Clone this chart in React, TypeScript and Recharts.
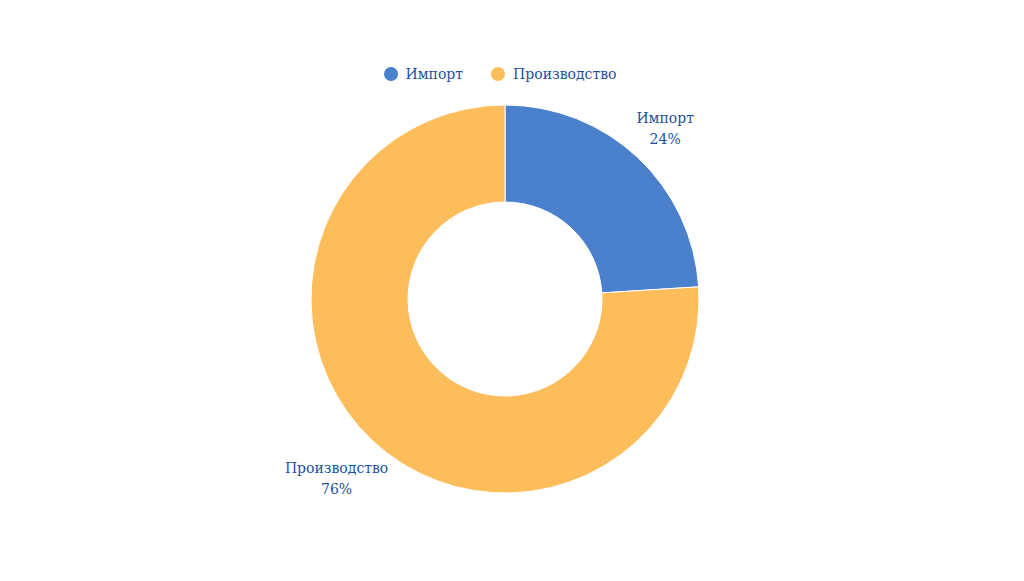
import { PieChart, Pie, Cell, Legend } from "recharts"

const categories = ["Импорт", "Производство"]
const shares = [24, 76]
const COLORS = ["#4a80cc", "#fdbd5b"]
const TEXT = "#1f4fa0"
const FONT = "'DejaVu Serif', serif"

const chartData = categories.map((name, i) => ({ name, value: shares[i] }))

const RADIAN = Math.PI / 180

// two-line label outside the ring, pushed further for longer names
const renderLabel = (props: any) => {
  const { cx, cy, midAngle, outerRadius, name, value } = props
  const r = outerRadius + 28 + name.length * 2
  const x = cx + r * Math.cos(-midAngle * RADIAN)
  const y = cy + r * Math.sin(-midAngle * RADIAN)
  return (
    <text x={x} y={y} fill={TEXT} textAnchor="middle" fontFamily={FONT} fontSize={14}>
      <tspan x={x} dy={-5}>{name}</tspan>
      <tspan x={x} dy={21}>{`${value}%`}</tspan>
    </text>
  )
}

const renderLegend = () => (
  <div style={{ display: "flex", justifyContent: "center", gap: 28, fontFamily: FONT, fontSize: 14, color: TEXT }}>
    {categories.map((name, i) => (
      <div key={name} style={{ display: "flex", alignItems: "center" }}>
        <span
          style={{
            display: "inline-block",
            width: 14,
            height: 14,
            borderRadius: "50%",
            background: COLORS[i],
            marginRight: 8,
          }}
        />
        {name}
      </div>
    ))}
  </div>
)

export default function App() {
  return (
    <div style={{ position: "absolute", left: 0, top: 0, width: 1024, height: 581, background: "#fff" }}>
      <PieChart width={1024} height={581}>
        <Legend verticalAlign="top" content={renderLegend} wrapperStyle={{ top: 66, left: 0, width: 1000 }} />
        <Pie
          data={chartData}
          dataKey="value"
          nameKey="name"
          cx={500}
          cy={278}
          innerRadius={97}
          outerRadius={194}
          startAngle={90}
          endAngle={-270}
          stroke="#fff"
          strokeWidth={1}
          label={renderLabel}
          labelLine={false}
          isAnimationActive={false}
        >
          {chartData.map((entry, index) => (
            <Cell key={`cell-${index}`} fill={COLORS[index % COLORS.length]} />
          ))}
        </Pie>
      </PieChart>
    </div>
  )
}
